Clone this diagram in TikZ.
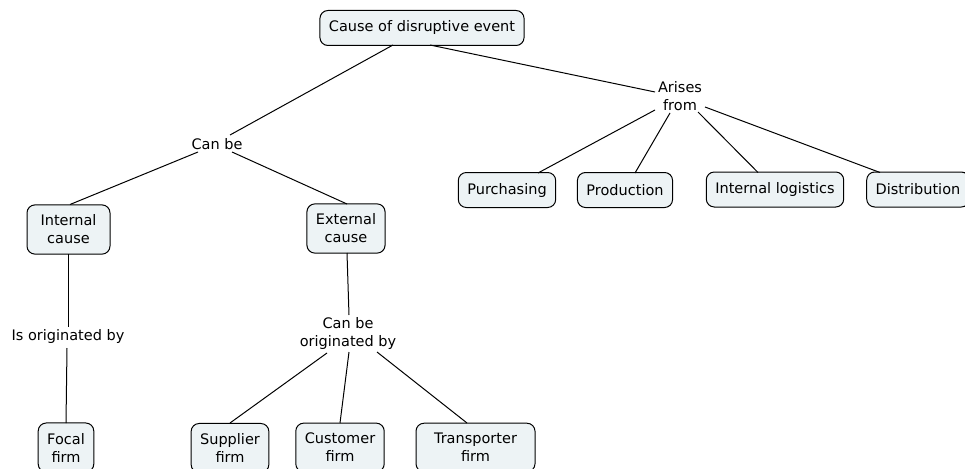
\documentclass[tikz,border=0pt]{standalone}
\usepackage{fontspec}
\usetikzlibrary{calc}
\setmainfont{DejaVu Sans}
\begin{document}
\begin{tikzpicture}[x=1pt,y=-1pt,
  concept/.style={draw=black, line width=1pt, rounded corners=8pt, fill=boxfill,
    align=center, inner xsep=9pt, inner ysep=10pt, minimum height=35pt,
    font=\fontsize{14.5}{18}\selectfont},
  linkword/.style={align=center, inner sep=2pt, font=\fontsize{14.5}{18}\selectfont},
  link/.style={draw=black, line width=1pt}]
\definecolor{boxfill}{HTML}{EDF3F5}
\useasboundingbox (0,0) rectangle (965,468);
\fill[white] (0,0) rectangle (965,468);

% concepts
\node[concept] (cause) at (422,28) {Cause of disruptive event};
\node[concept] (purch) at (507,190) {Purchasing};
\node[concept] (prod) at (625,190) {Production};
\node[concept] (intlog) at (775,189.5) {Internal logistics};
\node[concept] (distr) at (918,189.5) {Distribution};
\node[concept, minimum width=83pt] (intc) at (68.5,229.5) {Internal\\cause};
\node[concept] (extc) at (346,228.5) {External\\cause};
\node[concept] (focal) at (66,447.5) {Focal\\firm};
\node[concept] (suppl) at (230,448) {Supplier\\firm};
\node[concept] (cust) at (340,447.5) {Customer\\firm};
\node[concept, minimum width=119pt] (transp) at (475.5,447.5) {Transporter\\firm};

% linking phrases
\node[linkword] (arises) at (680,96) {Arises\\from};
\node[linkword] (canbe) at (217,144) {Can be};
\node[linkword] (isorig) at (68,336) {Is originated by};
\node[linkword] (canorig) at (348,333) {Can be\\originated by};

% connectors (end points given relative to the node centres)
\draw[link] ($(cause)+(-29,17)$) -- ($(canbe)+(13,-9)$);
\draw[link] ($(canbe)+(-19,8)$) -- ($(intc)+(1.5,-25)$);
\draw[link] ($(canbe)+(15,8)$) -- ($(extc)+(1,-24.5)$);
\draw[link] ($(cause)+(8,17)$) -- ($(arises)+(-25,-4)$);
\draw[link] ($(arises)+(-25,14)$) -- ($(purch)+(31,-17)$);
\draw[link] ($(arises)+(-10,17)$) -- ($(prod)+(10,-17)$);
\draw[link] ($(arises)+(18,16)$) -- ($(intlog)+(-17,-17)$);
\draw[link] ($(arises)+(25,11)$) -- ($(distr)+(-38,-17)$);
\draw[link] ($(intc)+(-0.5,24.5)$) -- ($(isorig)+(0,-9)$);
\draw[link] ($(isorig)+(-1,12)$) -- ($(focal)+(0,-24.5)$);
\draw[link] ($(extc)+(1,24.5)$) -- ($(canorig)+(1,-18)$);
\draw[link] ($(canorig)+(-21,20)$) -- ($(suppl)+(0,-25)$);
\draw[link] ($(canorig)+(1,19)$) -- ($(cust)+(0,-24.5)$);
\draw[link] ($(canorig)+(29,19)$) -- ($(transp)+(-8.5,-24.5)$);
\end{tikzpicture}
\end{document}
